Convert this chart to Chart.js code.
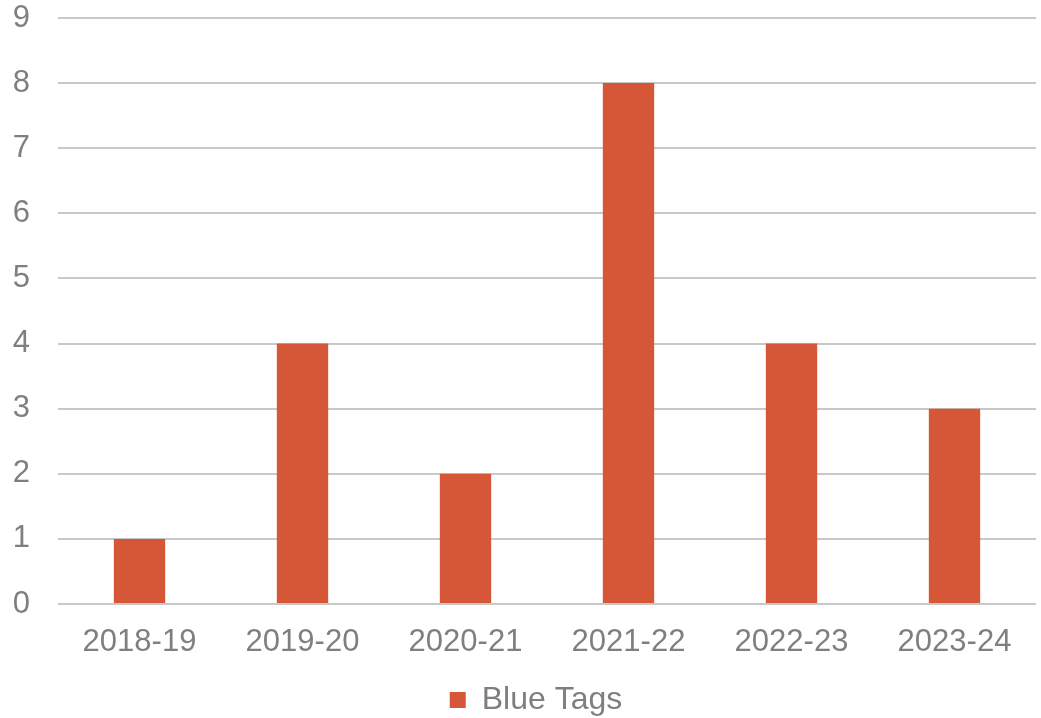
<!DOCTYPE html>
<html>
<head>
<meta charset="utf-8">
<script src="https://cdn.jsdelivr.net/npm/chart.js@4"></script>
<style>
html,body{margin:0;padding:0;background:#ffffff;}
#wrap{width:1041px;height:718px;position:relative;}
</style>
</head>
<body>
<div id="wrap"><canvas id="c"></canvas></div>
<script>
const categories = ["2018-19","2019-20","2020-21","2021-22","2022-23","2023-24"];
const seriesName = "Blue Tags";
const blueTags = [1,4,2,8,4,3];
const yMin = 0, yMax = 9, yStep = 1;

Chart.defaults.font.family = "'Liberation Sans', Arial, sans-serif";
Chart.defaults.color = "#7f7f7f";

const legendShift = {
  id: 'legendShift',
  afterLayout(chart) {
    if (chart.legend) { chart.legend.left += 18; chart.legend.right += 18; }
  }
};

new Chart(document.getElementById('c'), {
  type: 'bar',
  data: {
    labels: categories,
    datasets: [{
      label: seriesName,
      data: blueTags,
      backgroundColor: '#d55737',
      borderWidth: 0,
      barPercentage: 0.315,
      categoryPercentage: 1.0
    }]
  },
  plugins: [legendShift],
  options: {
    responsive: true,
    maintainAspectRatio: false,
    animation: false,
    devicePixelRatio: 1,
    layout: { padding: { top: 18, right: 5, left: 0, bottom: -8 } },
    plugins: {
      legend: {
        position: 'bottom',
        labels: {
          font: { size: 32 },
          color: '#7f7f7f',
          boxWidth: 16,
          boxHeight: 16,
          padding: 4
        }
      },
      tooltip: { enabled: false }
    },
    scales: {
      x: {
        grid: { display: false, drawTicks: false },
        border: { display: false },
        ticks: { font: { size: 31 }, color: '#7f7f7f', padding: 20, maxRotation: 0 },
        afterFit: (s) => { s.height = 76; }
      },
      y: {
        min: yMin, max: yMax,
        grid: { color: '#c8c8c8', lineWidth: 2, drawTicks: false },
        border: { display: false },
        ticks: { stepSize: yStep, font: { size: 31 }, color: '#7f7f7f', padding: 28 },
        afterFit: (s) => { s.width = 58; s.paddingTop = 0; s.paddingBottom = 0; }
      }
    }
  }
});
</script>
</body>
</html>
